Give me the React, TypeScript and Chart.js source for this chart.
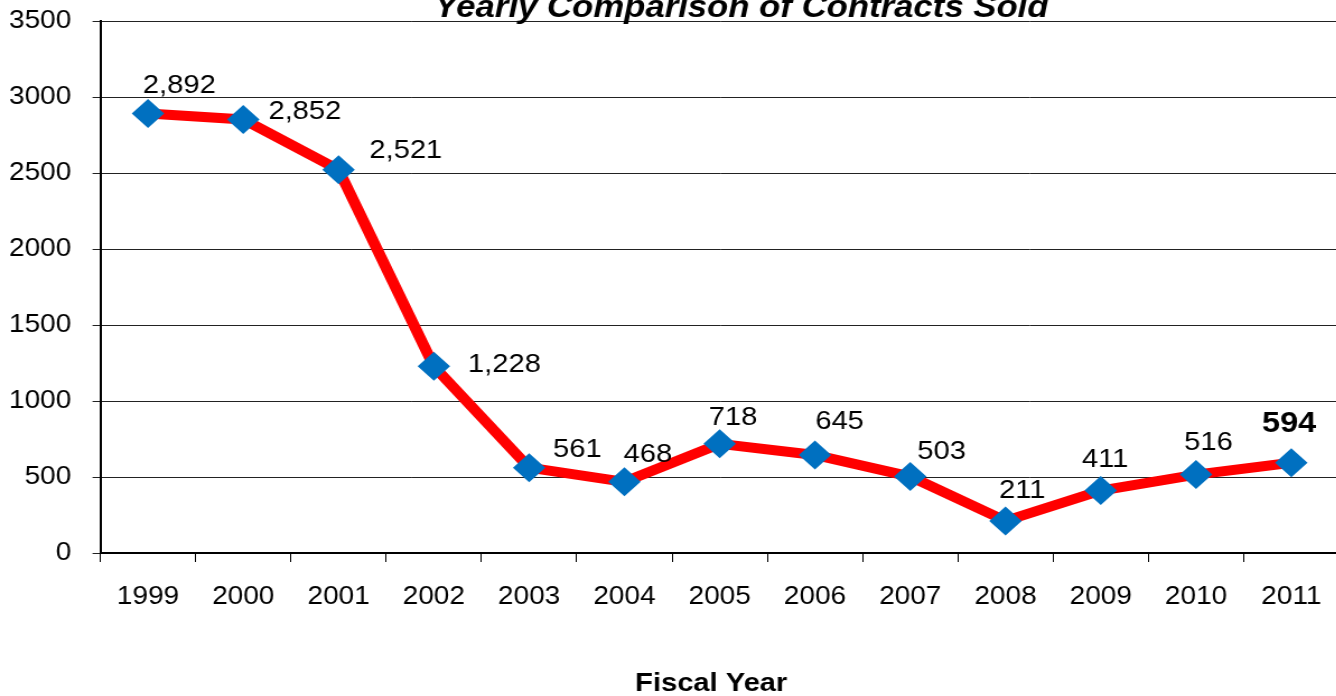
import React, { useEffect, useRef } from "react";
import { Chart, registerables } from "chart.js";

Chart.register(...registerables);

// ---- data ----
const categories = ["1999", "2000", "2001", "2002", "2003", "2004", "2005", "2006", "2007", "2008", "2009", "2010", "2011"];
const contractsSold = [2892, 2852, 2521, 1228, 561, 468, 718, 645, 503, 211, 411, 516, 594];
const yTickValues = [0, 500, 1000, 1500, 2000, 2500, 3000, 3500];
const chartTitle = "Yearly Comparison of Contracts Sold";
const xAxisTitle = "Fiscal Year";
const highlightIndex = 12;

// ---- label placement (style, relative to each point) ----
const labelDx = [28, 55, 60, 63, 43, 21, 12, 22, 28, 15, 4, 11, -2];
const labelDy = [-28, -8, -19, -2, -18, -27, -26, -33, -25, -30, -31, -32, -39];

const STRETCH = 1.12;
const CANVAS_W = 1210;
const CANVAS_H = 696;
const FONT = '"Liberation Sans", Arial, sans-serif';

function fmt(v: number): string {
  return String(v).replace(/\B(?=(\d{3})+(?!\d))/g, ",");
}

const overlayPlugin = {
  id: "overlayText",
  afterDatasetsDraw(chart: any) {
    const ctx = chart.ctx as CanvasRenderingContext2D;
    const meta = chart.getDatasetMeta(0);
    ctx.save();
    ctx.fillStyle = "#000";
    ctx.textAlign = "center";
    ctx.textBaseline = "middle";
    meta.data.forEach((pt: any, i: number) => {
      ctx.font = i === highlightIndex ? `bold 29px ${FONT}` : `26px ${FONT}`;
      ctx.fillText(fmt(contractsSold[i]), pt.x + labelDx[i], pt.y + labelDy[i]);
    });
    ctx.textBaseline = "alphabetic";
    ctx.font = `italic bold 31px ${FONT}`;
    ctx.fillText(chartTitle, 662, 17);
    ctx.font = `bold 26px ${FONT}`;
    ctx.fillText(xAxisTitle, 635, 691);
    ctx.restore();
  },
};

export default function App() {
  const canvasRef = useRef<HTMLCanvasElement | null>(null);

  useEffect(() => {
    const canvas = canvasRef.current;
    if (!canvas) return;
    const chart = new Chart(canvas, {
      type: "line",
      data: {
        labels: categories,
        datasets: [
          {
            data: contractsSold,
            borderColor: "#FF0000",
            borderWidth: 10,
            tension: 0,
            pointStyle: "rectRot",
            pointRadius: 14.5,
            pointHoverRadius: 14.5,
            pointBackgroundColor: "#0070C0",
            pointBorderColor: "#0070C0",
            pointBorderWidth: 0,
            clip: false as any,
          },
        ],
      },
      options: {
        responsive: false,
        animation: false,
        devicePixelRatio: 1,
        events: [],
        layout: { padding: { left: -11, right: 0, top: 21, bottom: 64 } },
        plugins: {
          legend: { display: false },
          tooltip: { enabled: false },
          title: { display: false },
        },
        scales: {
          x: {
            type: "category",
            offset: true,
            grid: {
              display: true,
              drawOnChartArea: false,
              drawTicks: true,
              tickLength: 9,
              color: "#000",
              offset: true,
            },
            border: { display: true, color: "#000", width: 2 },
            ticks: {
              color: "#000",
              font: { family: FONT, size: 25 },
              padding: 20,
              maxRotation: 0,
              autoSkip: false,
            },
          },
          y: {
            min: 0,
            max: 3500,
            afterBuildTicks: (scale: any) => {
              scale.ticks = yTickValues.map((v) => ({ value: v }));
            },
            grid: {
              color: "#222",
              lineWidth: 1,
              tickLength: 7,
            },
            border: { display: true, color: "#000", width: 2 },
            ticks: {
              color: "#000",
              font: { family: FONT, size: 25, lineHeight: 0.1 },
              padding: 19,
              callback: (v: any) => String(v),
            },
          },
        },
      },
      plugins: [overlayPlugin],
    });
    return () => chart.destroy();
  }, []);

  return (
    <div
      style={{
        position: "fixed",
        left: 0,
        top: 0,
        width: 1336,
        height: 696,
        overflow: "hidden",
        background: "#fff",
      }}
    >
      <div
        style={{
          width: CANVAS_W,
          height: CANVAS_H,
          transform: `scaleX(${STRETCH})`,
          transformOrigin: "0 0",
        }}
      >
        <canvas ref={canvasRef} width={CANVAS_W} height={CANVAS_H} style={{ display: "block" }} />
      </div>
    </div>
  );
}
